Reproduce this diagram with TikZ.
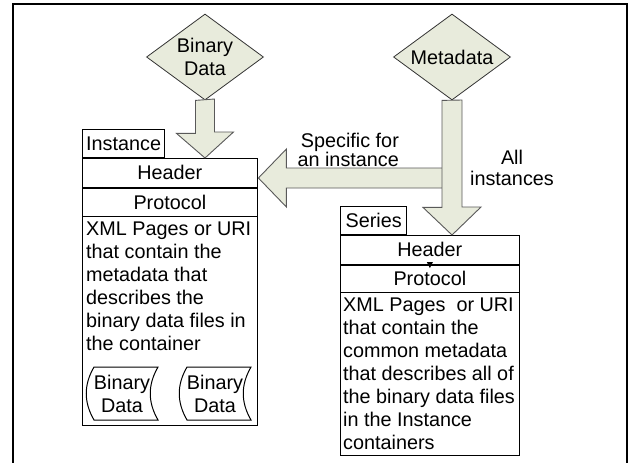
\documentclass[tikz,border=0pt]{standalone}
\usepackage{fontspec}
\setmainfont{Liberation Sans}
\usetikzlibrary{shapes.geometric,calc}

\definecolor{pale}{RGB}{232,235,220}
\tikzset{
  txt/.style={font=\fontsize{19.8}{23}\selectfont},
  diam/.style={shape=diamond,draw=black!80,fill=pale,inner sep=0pt,
    minimum width=117pt,minimum height=86pt,line width=0.8pt},
  blk/.style={draw=black!65,fill=pale,line width=0.9pt,line join=miter},
  tabbox/.style={txt,draw,line width=1.3pt,inner sep=0pt,minimum height=28pt,anchor=south west},
  body/.style={draw,line width=1.4pt,inner sep=0pt,anchor=north west},
  row/.style={txt,draw,line width=0.7pt,inner sep=0pt,anchor=north west},
  para/.style={txt,inner xsep=4pt,inner ysep=0pt,anchor=north west,align=left}
}

\begin{document}
\begin{tikzpicture}[x=1pt,y=-1pt]
      \clip (0,0) rectangle (632,463) ;
      % frame, open at the bottom
      \draw[line width=2.5pt] (13,480)--(13,4)--(627,4)--(627,480) ;

      % sources
      \node[diam,label={[txt,align=center]center:Binary\\Data}] (bin) at (205,57) {} ;
      \node[diam,label={[txt]center:Metadata}] (meta) at (452,57) {} ;

      % instance container
      \node[tabbox,minimum width=82pt] (insttab) at (82,158) {Instance} ;
      \node[row,minimum width=175pt,minimum height=29pt] (insthead) at (insttab.south west) {Header} ;
      \node[row,minimum width=175pt,minimum height=28pt] (instprot) at (insthead.south west) {Protocol} ;
      \node[para] (insttxt) at ($(instprot.south west)+(0,5)$)
        {XML Pages or URI\\that contain the\\metadata that\\describes the\\binary data files in\\the container} ;
      \node[body,minimum width=175pt,minimum height=267pt] (inst) at (insttab.south west) {} ;
      \foreach \i/\cx in {1/122,2/215} {
        \node[txt,align=center,inner sep=0pt] (bd\i) at (\cx,393.5) {Binary\\Data} ;
        \draw[line width=1pt] ($(bd\i)+(-28,-26.5)$) -- ++(64,0)
          to[bend right=30] ++(0,53) -- ++(-64,0) to[bend left=30] ++(0,-53) -- cycle ;
      }

      % series container
      \node[tabbox,minimum width=66pt] (sertab) at (340,235) {Series} ;
      \node[row,minimum width=179pt,minimum height=29pt] (serhead) at (sertab.south west) {Header} ;
      \node[row,minimum width=179pt,minimum height=27pt] (serprot) at (serhead.south west) {Protocol} ;
      \node[para,inner xsep=3pt] (sertxt) at ($(serprot.south west)+(0,5)$)
        {XML Pages \ or URI\\that contain the\\common metadata\\that describes all of\\the binary data files\\in the Instance\\containers} ;
      \node[body,minimum width=179pt,minimum height=220pt] (ser) at (sertab.south west) {} ;
      \fill ($(serhead.south)+(0,-2.5)$) ++(-3,0) -- ++(6,0) -- ++(-3,6) -- cycle ;

      % block arrows
      \draw[blk] (bin.south) ++(-9.5,0) -- ++(0,33) -- ++(-19,0) -- (bin.south |- inst.north)
        -- ++(28.5,-26) -- ++(-19,0) -- ++(0,-33) -- cycle ;
      \coordinate (tip) at ($(inst.north east)+(0,20)$) ;
      \draw[blk] (tip) -- ++(28,-29) -- ++(0,19) -- ++(157,0) -- ++(0,20) -- ++(-157,0) -- ++(0,19) -- cycle ;
      \draw[blk] (meta.south) ++(-10,0) -- ++(0,107) -- ++(-19,0) -- (meta.south |- ser.north)
        -- ++(29,-28) -- ++(-19,0) -- ++(0,-107) -- cycle ;
      \node[font=\fontsize{19.8}{19}\selectfont,align=right,anchor=east] (spec) at ($(tip)+(144,-28)$) {Specific for\\an instance} ;
      \node[font=\fontsize{19.8}{21}\selectfont,align=center] (all) at ($(meta.south)+(60,67.5)$) {All\\instances} ;
    \end{tikzpicture}
\end{document}
